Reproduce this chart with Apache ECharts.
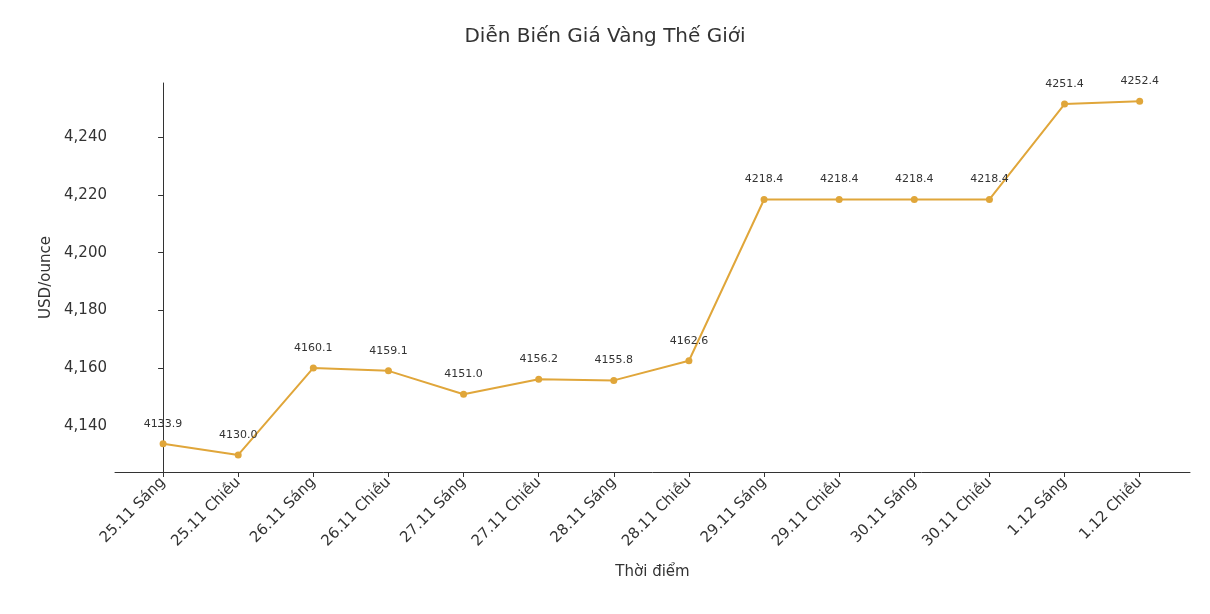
<!DOCTYPE html>
<html><head><meta charset="utf-8">
<script src="https://cdn.jsdelivr.net/npm/echarts@6/dist/echarts.min.js"></script>
<style>html,body{margin:0;background:#fff}#c{width:1210px;height:614px}</style>
</head><body><div id="c"></div>
<script>
var times = ['25.11 Sáng', '25.11 Chiều', '26.11 Sáng', '26.11 Chiều', '27.11 Sáng', '27.11 Chiều', '28.11 Sáng',
    '28.11 Chiều', '29.11 Sáng', '29.11 Chiều', '30.11 Sáng', '30.11 Chiều', '1.12 Sáng', '1.12 Chiều']
var prices = [4133.9, 4130.0, 4160.1, 4159.1, 4151.0, 4156.2, 4155.8, 4162.6, 4218.4, 4218.4, 4218.4, 4218.4, 4251.4, 4252.4]
var yTicks = [4140, 4160, 4180, 4200, 4220, 4240]

var font = 'DejaVu Sans'
var points = []
for (let i = 0; i < prices.length; i++) {
    points.push([i, prices[i]])
}
var xTicks = times.map(function (t, i) { return i })

var option = {
    animation: false,
    textStyle: {fontFamily: font},
    title: {
        text: 'Diễn Biến Giá Vàng Thế Giới',
        left: 'center', top: 22,
        textStyle: {fontFamily: font, fontSize: 20, fontWeight: 400, color: '#333'}
    },
    grid: {left: 115, right: 20, top: 83, bottom: 142},
    xAxis: {
        type: 'value', min: -0.64, max: 13.67,
        name: 'Thời điểm', nameLocation: 'middle', nameGap: 93,
        nameTextStyle: {fontSize: 15, color: '#333'},
        splitLine: {show: false},
        axisLine: {lineStyle: {color: '#333'}},
        axisTick: {show: true, customValues: xTicks, length: 5, lineStyle: {color: '#333'}},
        axisLabel: {
            customValues: xTicks, rotate: 45, fontSize: 15, color: '#333', margin: 8,
            formatter: function (v) { return times[Math.round(v)] }
        }
    },
    yAxis: {
        type: 'value', min: 4124.1, max: 4258.7,
        name: 'USD/ounce', nameLocation: 'middle', nameGap: 50,
        nameTextStyle: {fontSize: 15, color: '#333'},
        splitLine: {show: false},
        axisLine: {show: true, lineStyle: {color: '#333'}},
        axisTick: {show: true, customValues: yTicks, length: 5, lineStyle: {color: '#333'}},
        axisLabel: {customValues: yTicks, fontSize: 15, color: '#333'}
    },
    series: [{
        type: 'line',
        data: points,
        symbol: 'circle', symbolSize: 7,
        lineStyle: {color: '#e0a63a', width: 2},
        itemStyle: {color: '#e0a63a'},
        label: {
            show: true, position: 'top', distance: 11, fontSize: 11, color: '#333',
            formatter: function (p) { return p.data[1].toFixed(1) }
        }
    }]
}
var myChart = echarts.init(document.getElementById('c'))
myChart.setOption(option)
</script></body></html>
